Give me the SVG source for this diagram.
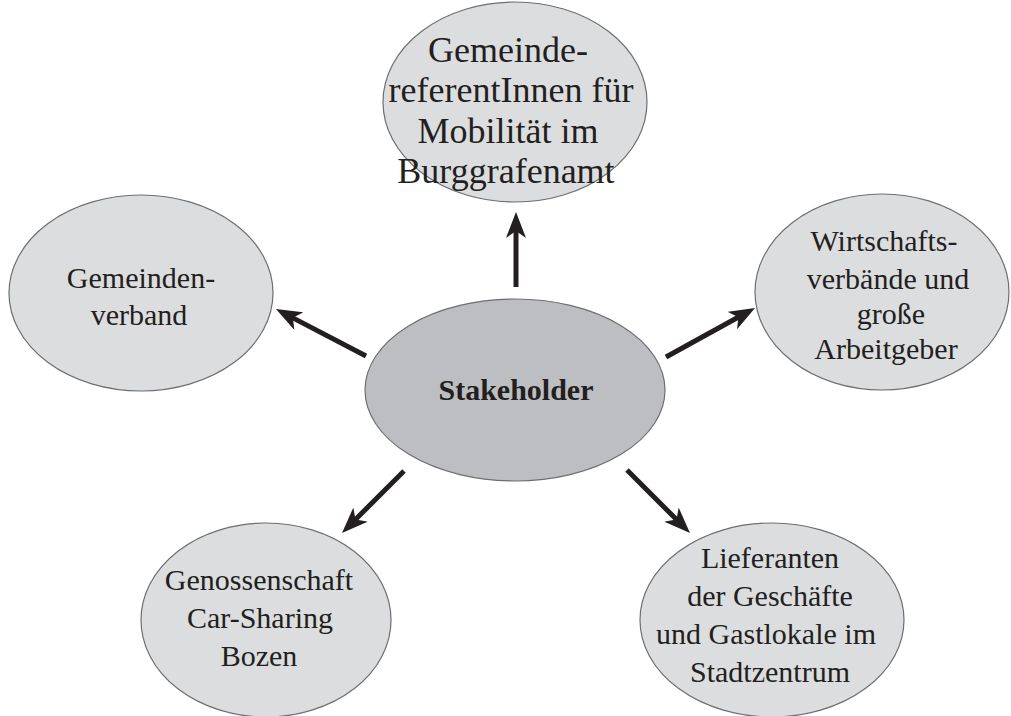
<svg xmlns="http://www.w3.org/2000/svg" width="1011" height="716" viewBox="0 0 1011 716">
<style>
.outer{fill:#dcdddf;stroke:#6d6e70;stroke-width:1.2}
.center{fill:#bdbec1;stroke:#6d6e70;stroke-width:1.2}
.t{font-family:"Liberation Serif","Times New Roman",serif;font-size:30px;fill:#231f20;text-anchor:middle}
.tl{font-size:36px}
.b{font-weight:bold}
.arr{stroke:#231f20;stroke-width:5;fill:none;marker-end:url(#ah)}
</style>
<defs>
<marker id="ah" viewBox="0 0 26 20" refX="14" refY="10" markerWidth="26" markerHeight="20" markerUnits="userSpaceOnUse" orient="auto">
<path d="M0,0 L26,10 L0,20 L7,10 z" fill="#231f20"/>
</marker>
</defs>
<rect width="1011" height="716" fill="#ffffff"/>
<g id="connectors">
<line class="arr" x1="516" y1="287" x2="516" y2="224"/>
<line class="arr" x1="366" y1="356" x2="286.6" y2="314.6"/>
<line class="arr" x1="666" y1="357" x2="744.5" y2="313.8"/>
<line class="arr" x1="404" y1="471" x2="350.5" y2="524.5"/>
<line class="arr" x1="627" y1="470" x2="681.5" y2="524.5"/>
</g>
<g id="stakeholder">
<ellipse class="center" cx="515" cy="390" rx="150" ry="91"/>
<text class="t b" x="516" y="400">Stakeholder</text>
</g>
<g id="gemeindereferenten">
<ellipse class="outer" cx="515" cy="102" rx="132" ry="100"/>
<text class="t tl" x="508" y="62">Gemeinde-</text>
<text class="t tl" x="511" y="102">referentInnen für</text>
<text class="t tl" x="508" y="143">Mobilität im</text>
<text class="t tl" x="506" y="183">Burggrafenamt</text>
</g>
<g id="gemeindenverband">
<ellipse class="outer" cx="141" cy="293" rx="132" ry="98"/>
<text class="t" x="141" y="288">Gemeinden-</text>
<text class="t" x="139" y="325">verband</text>
</g>
<g id="wirtschaftsverbaende">
<ellipse class="outer" cx="882" cy="292" rx="127" ry="98"/>
<text class="t" x="884" y="251">Wirtschafts-</text>
<text class="t" x="888" y="289">verbände und</text>
<text class="t" x="891" y="324">große</text>
<text class="t" x="886" y="359">Arbeitgeber</text>
</g>
<g id="carsharing">
<ellipse class="outer" cx="266" cy="620" rx="125" ry="97"/>
<text class="t" x="259" y="590">Genossenschaft</text>
<text class="t" x="260" y="628">Car-Sharing</text>
<text class="t" x="259" y="666">Bozen</text>
</g>
<g id="lieferanten">
<ellipse class="outer" cx="772" cy="620" rx="132" ry="97"/>
<text class="t" x="770" y="568">Lieferanten</text>
<text class="t" x="770" y="606">der Geschäfte</text>
<text class="t" x="766" y="644">und Gastlokale im</text>
<text class="t" x="770" y="682">Stadtzentrum</text>
</g>
</svg>
